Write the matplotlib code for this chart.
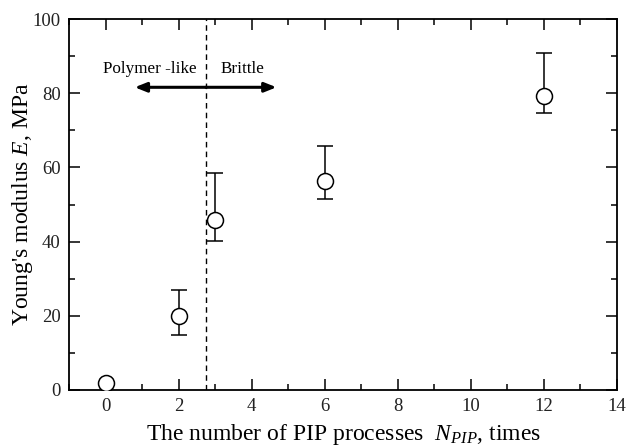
import matplotlib.pyplot as plt
import numpy as np

plt.rcParams['font.family'] = 'serif'
plt.rcParams['font.serif'] = ['Liberation Serif']
plt.rcParams['mathtext.fontset'] = 'custom'
plt.rcParams['mathtext.it'] = 'Liberation Serif:italic'
plt.rcParams['mathtext.rm'] = 'Liberation Serif'

# data
n_pip = [0, 2, 3, 6, 12]
modulus = [2.0, 20.0, 45.9, 56.4, 79.3]
err_up = [0.0, 27.0, 58.6, 65.9, 90.8]
err_low = [2.0, 14.7, 40.2, 51.5, 74.8]
boundary = 2.75

yerr = np.array([np.array(modulus) - np.array(err_low),
                 np.array(err_up) - np.array(modulus)])
yerr[:, 0] = 0

fig = plt.figure(figsize=(6.27, 4.48), dpi=100)
ax = fig.add_axes([0.110, 0.1295, 0.874, 0.828])

ax.errorbar(n_pip, modulus, yerr=yerr, fmt='o', color='black', ms=11.5,
            mfc='white', mec='black', mew=1.1, ecolor='black', elinewidth=1.1,
            capsize=6, capthick=1.1, zorder=3)

ax.axvline(boundary, color='black', ls=(0, (4, 3)), lw=1.0)

ax.annotate('', xy=(0.8, 81.6), xytext=(boundary, 81.6),
            arrowprops=dict(arrowstyle='-|>,head_length=0.7,head_width=0.28',
                            color='black', lw=2.2, shrinkA=0, shrinkB=0))
ax.annotate('', xy=(4.68, 81.6), xytext=(boundary, 81.6),
            arrowprops=dict(arrowstyle='-|>,head_length=0.7,head_width=0.28',
                            color='black', lw=2.2, shrinkA=0, shrinkB=0))
ax.text(1.22, 86.5, 'Polymer -like', ha='center', va='center', fontsize=12.3)
ax.text(3.76, 86.5, 'Brittle', ha='center', va='center', fontsize=12.3)

ax.set_xlim(-1, 14)
ax.set_ylim(0, 100)
ax.set_xticks(np.arange(0, 15, 2))
ax.set_xticks(np.arange(-1, 15, 1), minor=True)
ax.set_yticks(np.arange(0, 101, 20))
ax.set_yticks(np.arange(0, 101, 10), minor=True)
ax.tick_params(which='both', direction='in', top=True, right=True,
               labelsize=13.5, width=1.1, labelcolor='#222222')
ax.tick_params(which='major', length=8, pad=6)
ax.tick_params(which='minor', length=4)
for s in ax.spines.values():
    s.set_linewidth(1.3)

ax.set_xlabel(r'The number of PIP processes  $N_{PIP}$, times', fontsize=17, labelpad=5)
ax.set_ylabel(r"Young's modulus $E$, MPa", fontsize=17, labelpad=-2)

fig.savefig('out.png', dpi=100)
